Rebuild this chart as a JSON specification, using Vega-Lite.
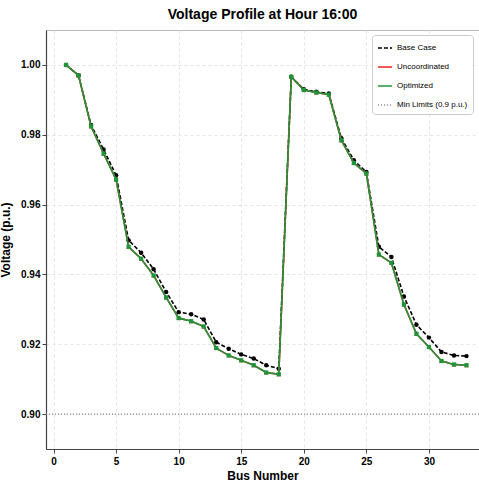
{
  "$schema": "https://vega.github.io/schema/vega-lite/v6.json",
  "width": 433,
  "height": 419,
  "autosize": {"type": "none"},
  "padding": {"left": 46, "top": 30, "right": 0, "bottom": 36},
  "background": "white",
  "title": {"text": "Voltage Profile at Hour 16:00", "font": "Liberation Sans Narrow, Liberation Sans", "fontSize": 14, "fontWeight": "bold", "color": "#000", "offset": 8},
  "config": {
    "view": {"stroke": "#bbbbbb", "strokeWidth": 1},
    "axis": {"labelFont": "Liberation Sans Narrow, Liberation Sans", "titleFont": "Liberation Sans Narrow, Liberation Sans", "labelColor": "#000", "titleColor": "#000", "labelFontSize": 10, "labelFontWeight": "bold", "titleFontSize": 12, "titleFontWeight": "bold", "gridColor": "#dddddd", "gridDash": [3, 3], "gridWidth": 0.8, "domainColor": "#444", "domainWidth": 1.2, "tickColor": "#444", "tickSize": 4}
  },
  "data": {"values": [
    {"bus": 1, "Base Case": 1.0000, "Uncoordinated": 1.0000, "Optimized": 1.0000},
    {"bus": 2, "Base Case": 0.9970, "Uncoordinated": 0.9970, "Optimized": 0.9970},
    {"bus": 3, "Base Case": 0.9828, "Uncoordinated": 0.9824, "Optimized": 0.9824},
    {"bus": 4, "Base Case": 0.9758, "Uncoordinated": 0.9746, "Optimized": 0.9746},
    {"bus": 5, "Base Case": 0.9684, "Uncoordinated": 0.9672, "Optimized": 0.9672},
    {"bus": 6, "Base Case": 0.9498, "Uncoordinated": 0.9479, "Optimized": 0.9479},
    {"bus": 7, "Base Case": 0.9462, "Uncoordinated": 0.9445, "Optimized": 0.9445},
    {"bus": 8, "Base Case": 0.9415, "Uncoordinated": 0.9397, "Optimized": 0.9397},
    {"bus": 9, "Base Case": 0.9350, "Uncoordinated": 0.9334, "Optimized": 0.9334},
    {"bus": 10, "Base Case": 0.9292, "Uncoordinated": 0.9275, "Optimized": 0.9275},
    {"bus": 11, "Base Case": 0.9286, "Uncoordinated": 0.9266, "Optimized": 0.9266},
    {"bus": 12, "Base Case": 0.9271, "Uncoordinated": 0.9251, "Optimized": 0.9251},
    {"bus": 13, "Base Case": 0.9206, "Uncoordinated": 0.9189, "Optimized": 0.9189},
    {"bus": 14, "Base Case": 0.9187, "Uncoordinated": 0.9168, "Optimized": 0.9168},
    {"bus": 15, "Base Case": 0.9171, "Uncoordinated": 0.9154, "Optimized": 0.9154},
    {"bus": 16, "Base Case": 0.9159, "Uncoordinated": 0.9140, "Optimized": 0.9140},
    {"bus": 17, "Base Case": 0.9140, "Uncoordinated": 0.9119, "Optimized": 0.9119},
    {"bus": 18, "Base Case": 0.9130, "Uncoordinated": 0.9114, "Optimized": 0.9114},
    {"bus": 19, "Base Case": 0.9966, "Uncoordinated": 0.9966, "Optimized": 0.9966},
    {"bus": 20, "Base Case": 0.9930, "Uncoordinated": 0.9928, "Optimized": 0.9928},
    {"bus": 21, "Base Case": 0.9923, "Uncoordinated": 0.9921, "Optimized": 0.9921},
    {"bus": 22, "Base Case": 0.9918, "Uncoordinated": 0.9915, "Optimized": 0.9915},
    {"bus": 23, "Base Case": 0.9790, "Uncoordinated": 0.9784, "Optimized": 0.9784},
    {"bus": 24, "Base Case": 0.9727, "Uncoordinated": 0.9719, "Optimized": 0.9719},
    {"bus": 25, "Base Case": 0.9693, "Uncoordinated": 0.9689, "Optimized": 0.9689},
    {"bus": 26, "Base Case": 0.9479, "Uncoordinated": 0.9457, "Optimized": 0.9457},
    {"bus": 27, "Base Case": 0.9450, "Uncoordinated": 0.9433, "Optimized": 0.9433},
    {"bus": 28, "Base Case": 0.9337, "Uncoordinated": 0.9314, "Optimized": 0.9314},
    {"bus": 29, "Base Case": 0.9256, "Uncoordinated": 0.9230, "Optimized": 0.9230},
    {"bus": 30, "Base Case": 0.9219, "Uncoordinated": 0.9192, "Optimized": 0.9192},
    {"bus": 31, "Base Case": 0.9178, "Uncoordinated": 0.9152, "Optimized": 0.9152},
    {"bus": 32, "Base Case": 0.9168, "Uncoordinated": 0.9142, "Optimized": 0.9142},
    {"bus": 33, "Base Case": 0.9166, "Uncoordinated": 0.9140, "Optimized": 0.9140}
  ]},
  "transform": [{"fold": ["Base Case", "Uncoordinated", "Optimized"], "as": ["series", "v"]}],
  "encoding": {
    "x": {"field": "bus", "type": "quantitative", "title": "Bus Number", "scale": {"domain": [-0.6, 34.0], "nice": false, "zero": false}, "axis": {"values": [0, 5, 10, 15, 20, 25, 30], "grid": true, "titlePadding": 4, "labelPadding": 3}},
    "y": {"field": "v", "type": "quantitative", "title": "Voltage (p.u.)", "scale": {"domain": [0.89, 1.01], "nice": false, "zero": false}, "axis": {"values": [0.90, 0.92, 0.94, 0.96, 0.98, 1.00], "format": ".2f", "grid": true, "titlePadding": 8}},
    "color": {"field": "series", "type": "nominal", "title": null,
      "scale": {"domain": ["Base Case", "Uncoordinated", "Optimized", "Min Limits (0.9 p.u.)"], "range": ["#000000", "#ee2222", "#1f9438", "#888888"]},
      "legend": {"orient": "none", "legendX": 326, "legendY": 5, "symbolType": "stroke", "symbolSize": 200, "symbolStrokeWidth": 1.6, "labelFont": "Liberation Sans Narrow, Liberation Sans", "labelFontSize": 8, "labelColor": "#000", "fillColor": "white", "strokeColor": "#cccccc", "cornerRadius": 3, "padding": 5, "rowPadding": 7, "labelLimit": 200}},
    "strokeDash": {"field": "series", "type": "nominal", "title": null,
      "scale": {"domain": ["Base Case", "Uncoordinated", "Optimized", "Min Limits (0.9 p.u.)"], "range": [[4, 2], [1, 0], [1, 0], [1, 2]]}}
  },
  "layer": [
    {"data": {"values": [{"series": "Min Limits (0.9 p.u.)", "v": 0.9}]}, "transform": [], "mark": {"type": "rule", "strokeWidth": 1.2}, "encoding": {"x": null}},
    {"transform": [{"filter": "datum.series === 'Base Case'"}], "mark": {"type": "line", "strokeWidth": 1.6}},
    {"transform": [{"filter": "datum.series === 'Base Case'"}], "mark": {"type": "point", "shape": "circle", "filled": true, "size": 20, "opacity": 1}, "encoding": {"strokeDash": null}},
    {"transform": [{"filter": "datum.series === 'Uncoordinated'"}], "mark": {"type": "line", "strokeWidth": 1.6}},
    {"transform": [{"filter": "datum.series === 'Uncoordinated'"}], "mark": {"type": "point", "shape": "triangle-up", "filled": true, "size": 20, "opacity": 1}, "encoding": {"strokeDash": null}},
    {"transform": [{"filter": "datum.series === 'Optimized'"}], "mark": {"type": "line", "strokeWidth": 1.6}},
    {"transform": [{"filter": "datum.series === 'Optimized'"}], "mark": {"type": "point", "shape": "square", "filled": true, "size": 18, "opacity": 1}, "encoding": {"strokeDash": null}}
  ]
}
